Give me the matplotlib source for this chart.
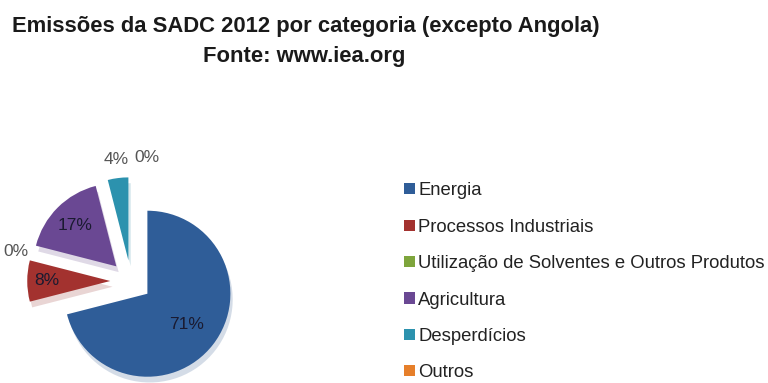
import numpy as np
import matplotlib.pyplot as plt

plt.rcParams['font.family'] = ['Liberation Sans', 'DejaVu Sans']

# SADC 2012 emissions by category (Angola excluded), percent share
categories = ['Energia', 'Processos Industriais',
              'Utilização de Solventes e Outros Produtos',
              'Agricultura', 'Desperdícios', 'Outros']
shares = [71, 8, 0, 17, 4, 0]
colors = ['#2F5D98', '#A3322F', '#7EA53C', '#6A4893', '#2C92AE', '#E67F2A']

# radial position of each percentage label (fraction of the radius)
label_r = [0.6, 0.77, 1.18, 0.7, 1.22, 1.24]

fig = plt.figure(figsize=(7.68, 3.83), dpi=100)

fig.text(0.398, 0.93, 'Emissões da SADC 2012 por categoria (excepto Angola)',
         ha='center', va='center', fontsize=15.8, fontweight='bold', color='#1a1a1a')
fig.text(0.396, 0.853, 'Fonte: www.iea.org',
         ha='center', va='center', fontsize=15.8, fontweight='bold', color='#1a1a1a')

# pie axes: one data unit = 83 px
L = 1.6
side = 2 * L * 83
cx, cy = 131, 383 - 281
ax = fig.add_axes([(cx - side / 2) / 768, (cy - side / 2) / 383, side / 768, side / 383])

explode = [0.25] * len(shares)
wedges, _ = ax.pie(shares, colors=colors, explode=explode, startangle=90,
                   counterclock=False, radius=1,
                   shadow={'ox': 0.02, 'oy': -0.05, 'shade': 0.1, 'alpha': 0.2},
                   wedgeprops={'linewidth': 0})
ax.set_xlim(-L, L)
ax.set_ylim(-L, L)
ax.set_aspect('equal')
ax.axis('off')

for w, v, r in zip(wedges, shares, label_r):
    mid = np.deg2rad((w.theta1 + w.theta2) / 2)
    x0, y0 = w.center
    x = x0 + r * np.cos(mid)
    y = y0 + r * np.sin(mid)
    inside = r < 1
    ha = 'center'
    if v == 0 and abs(np.cos(mid)) < 0.2:
        ha = 'left'
        x += 0.04
    ax.text(x, y, f'{v}%', ha=ha, va='center', fontsize=12.5,
            color='#1a1a30' if inside else '#555555')

leg = fig.legend(wedges, categories, loc='upper left',
                 bbox_to_anchor=(397 / 768, 1 - 175 / 383), frameon=False,
                 fontsize=13.3, handlelength=0.55, handleheight=0.55,
                 handletextpad=0.2, labelspacing=1.05, borderaxespad=0)
for t in leg.get_texts():
    t.set_color('#222222')

fig.savefig('out.png', dpi=100)
